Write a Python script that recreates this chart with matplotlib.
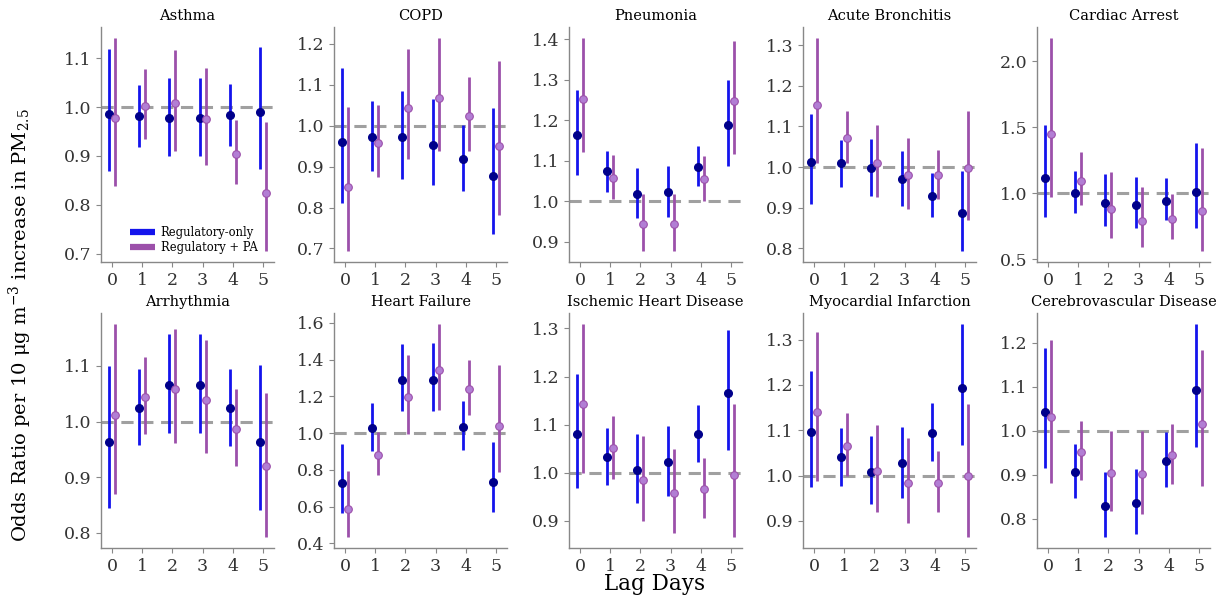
import matplotlib
matplotlib.use("Agg")
import matplotlib.pyplot as plt
from matplotlib.ticker import MultipleLocator
import numpy as np

plt.rcParams['font.family'] = ['DejaVu Serif']
plt.rcParams['mathtext.fontset'] = 'dejavuserif'

lags = [0, 1, 2, 3, 4, 5]
outcomes = ["Asthma", "COPD", "Pneumonia", "Acute Bronchitis", "Cardiac Arrest",
            "Arrhythmia", "Heart Failure", "Ischemic Heart Disease",
            "Myocardial Infarction", "Cerebrovascular Disease"]
ytick_step = [0.1, 0.1, 0.1, 0.1, 0.5, 0.1, 0.2, 0.1, 0.1, 0.1]

# Regulatory-only: odds ratio, lower CI, upper CI (per outcome, lag 0..5)
reg_or = [
    [0.986, 0.981, 0.977, 0.978, 0.983, 0.990],
    [0.961, 0.972, 0.972, 0.953, 0.918, 0.876],
    [1.165, 1.074, 1.019, 1.023, 1.086, 1.189],
    [1.013, 1.009, 0.997, 0.970, 0.930, 0.886],
    [1.114, 1.003, 0.927, 0.909, 0.944, 1.013],
    [0.964, 1.024, 1.065, 1.065, 1.024, 0.963],
    [0.731, 1.027, 1.287, 1.291, 1.033, 0.736],
    [1.080, 1.032, 1.006, 1.022, 1.080, 1.165],
    [1.096, 1.040, 1.009, 1.027, 1.095, 1.194],
    [1.043, 0.907, 0.828, 0.837, 0.932, 1.093],
]
reg_lo = [
    [0.870, 0.919, 0.900, 0.900, 0.921, 0.873],
    [0.811, 0.890, 0.870, 0.855, 0.840, 0.735],
    [1.065, 1.024, 0.959, 0.962, 1.037, 1.088],
    [0.909, 0.952, 0.928, 0.904, 0.878, 0.793],
    [0.818, 0.854, 0.755, 0.737, 0.800, 0.737],
    [0.845, 0.958, 0.980, 0.980, 0.956, 0.841],
    [0.567, 0.904, 1.122, 1.118, 0.909, 0.573],
    [0.968, 0.975, 0.937, 0.951, 1.022, 1.047],
    [0.975, 0.978, 0.937, 0.951, 1.032, 1.068],
    [0.916, 0.848, 0.758, 0.766, 0.872, 0.962],
]
reg_hi = [
    [1.118, 1.046, 1.060, 1.060, 1.048, 1.123],
    [1.140, 1.060, 1.085, 1.065, 1.002, 1.043],
    [1.276, 1.125, 1.082, 1.087, 1.138, 1.299],
    [1.131, 1.067, 1.070, 1.040, 0.985, 0.991],
    [1.513, 1.172, 1.146, 1.121, 1.114, 1.384],
    [1.100, 1.095, 1.158, 1.158, 1.095, 1.101],
    [0.942, 1.164, 1.485, 1.491, 1.173, 0.951],
    [1.206, 1.093, 1.080, 1.098, 1.142, 1.297],
    [1.231, 1.104, 1.088, 1.108, 1.161, 1.335],
    [1.188, 0.970, 0.907, 0.914, 0.998, 1.243],
]

# Regulatory + PA
pa_or = [
    [0.978, 1.003, 1.008, 0.975, 0.905, 0.825],
    [0.850, 0.958, 1.044, 1.068, 1.024, 0.950],
    [1.253, 1.058, 0.945, 0.945, 1.055, 1.248],
    [1.153, 1.072, 1.010, 0.981, 0.981, 0.997],
    [1.449, 1.096, 0.879, 0.793, 0.803, 0.864],
    [1.011, 1.044, 1.059, 1.039, 0.987, 0.921],
    [0.587, 0.882, 1.195, 1.342, 1.240, 1.040],
    [1.144, 1.051, 0.985, 0.958, 0.966, 0.995],
    [1.140, 1.066, 1.011, 0.984, 0.984, 1.000],
    [1.032, 0.952, 0.903, 0.901, 0.944, 1.016],
]
pa_lo = [
    [0.839, 0.935, 0.911, 0.881, 0.842, 0.705],
    [0.693, 0.875, 0.918, 0.938, 0.938, 0.782],
    [1.121, 1.007, 0.877, 0.877, 1.001, 1.117],
    [1.009, 1.009, 0.927, 0.898, 0.921, 0.870],
    [0.975, 0.914, 0.662, 0.596, 0.654, 0.561],
    [0.870, 0.977, 0.961, 0.943, 0.920, 0.792],
    [0.433, 0.773, 0.996, 1.127, 1.100, 0.791],
    [1.000, 0.988, 0.900, 0.876, 0.906, 0.866],
    [0.988, 1.000, 0.920, 0.895, 0.920, 0.864],
    [0.882, 0.888, 0.818, 0.812, 0.878, 0.874],
]
pa_hi = [
    [1.142, 1.077, 1.116, 1.079, 0.974, 0.969],
    [1.045, 1.051, 1.188, 1.215, 1.118, 1.157],
    [1.404, 1.114, 1.019, 1.019, 1.113, 1.397],
    [1.318, 1.137, 1.103, 1.071, 1.043, 1.139],
    [2.177, 1.316, 1.159, 1.045, 0.995, 1.340],
    [1.176, 1.116, 1.166, 1.146, 1.059, 1.051],
    [0.795, 1.005, 1.424, 1.596, 1.396, 1.373],
    [1.310, 1.118, 1.077, 1.050, 1.031, 1.143],
    [1.316, 1.138, 1.112, 1.084, 1.055, 1.158],
    [1.207, 1.023, 1.000, 1.000, 1.016, 1.183],
]

blue_line, blue_dot = '#1414ec', '#00008b'
purp_line, purp_dot = '#9c50aa', '#b27ed4'

fig = plt.figure(figsize=(12.23, 5.97), dpi=100)
lefts = [101, 334, 569, 803, 1037]
for i, name in enumerate(outcomes):
    row, col = divmod(i, 5)
    bottom = [262, 548][row]
    ax = fig.add_axes([lefts[col] / 1223, 1 - bottom / 597, 173 / 1223, 235 / 597])
    x = np.array(lags)
    ax.axhline(1.0, color='#a0a0a0', lw=2.2, ls=(0, (4, 2.5)), zorder=1)
    ax.vlines(x - 0.1, reg_lo[i], reg_hi[i], color=blue_line, lw=2.0, zorder=2,
              label='Regulatory-only')
    ax.plot(x - 0.1, reg_or[i], 'o', ms=5.5, color=blue_dot, zorder=3)
    ax.vlines(x + 0.1, pa_lo[i], pa_hi[i], color=purp_line, lw=2.0, zorder=2,
              label='Regulatory + PA')
    ax.plot(x + 0.1, pa_or[i], 'o', ms=5.5, mfc=purp_dot, mec=purp_line, mew=0.8, zorder=3)
    ax.set_xticks(lags)
    ax.yaxis.set_major_locator(MultipleLocator(ytick_step[i]))
    ax.set_title(name, fontsize=10.5, pad=5)
    ax.tick_params(labelsize=12.5, colors='#333333', length=3.5)
    ax.tick_params(axis='both', color='#888888')
    for s in ['top', 'right']:
        ax.spines[s].set_visible(False)
    for s in ['left', 'bottom']:
        ax.spines[s].set_color('#888888')
        ax.spines[s].set_linewidth(1.0)
    if i == 0:
        ax.legend(loc='lower center', bbox_to_anchor=(0.535, -0.01), frameon=False,
                  fontsize=8.3, handlelength=2.2, handleheight=0.6,
                  handletextpad=0.5, labelspacing=0.15)
        for h in ax.get_legend().legend_handles:
            h.set_linewidth(4.5)

fig.text(0.535, 0.022, 'Lag Days', ha='center', va='center', fontsize=15.5)
fig.text(0.017, 0.455, r'Odds Ratio per 10 μg m$^{-3}$ increase in PM$_{2.5}$',
         ha='center', va='center', rotation=90, fontsize=14)

fig.savefig('out.png', dpi=100)
